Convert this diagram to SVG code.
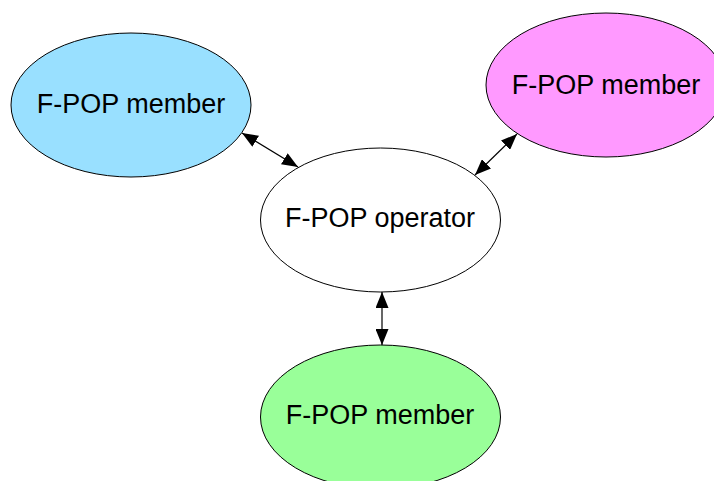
<svg xmlns="http://www.w3.org/2000/svg" width="714" height="481" viewBox="0 0 714 481">
<defs>
<style>
.node ellipse{stroke:#000;stroke-width:1}
.node text{font-family:"Liberation Sans",Arial,sans-serif;font-size:27px;fill:#000;text-anchor:middle}
.conn line{stroke:#000;stroke-width:1.2;marker-start:url(#ah);marker-end:url(#ah)}
</style>
<marker id="ah" viewBox="0 0 16 13" refX="16" refY="6.5" markerWidth="16" markerHeight="13" markerUnits="userSpaceOnUse" orient="auto-start-reverse">
<path d="M0,0 L16,6.5 L0,13 Z" fill="#000"/>
</marker>
</defs>
<rect width="714" height="481" fill="#fff"/>
<g id="member-left" class="node">
<ellipse cx="131" cy="105" rx="120" ry="72" fill="#99e0ff"/>
<text x="131" y="113">F-POP member</text>
</g>
<g id="member-right" class="node">
<ellipse cx="606" cy="85" rx="120" ry="72" fill="#ff99ff"/>
<text x="606" y="94">F-POP member</text>
</g>
<g id="operator" class="node">
<ellipse cx="380.5" cy="220" rx="120" ry="72" fill="#fff"/>
<text x="380" y="227">F-POP operator</text>
</g>
<g id="member-bottom" class="node">
<ellipse cx="380.5" cy="417" rx="120" ry="72" fill="#99ff99"/>
<text x="380" y="424">F-POP member</text>
</g>
<g id="connectors" class="conn">
<line x1="242" y1="133" x2="298" y2="167"/>
<line x1="517" y1="134" x2="475" y2="175"/>
<line x1="382" y1="292" x2="382" y2="345"/>
</g>
</svg>
